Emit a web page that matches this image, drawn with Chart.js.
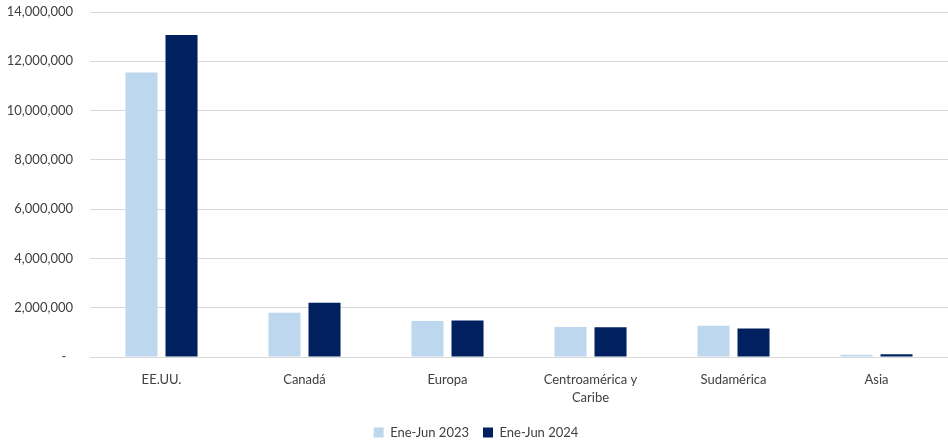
<!DOCTYPE html>
<html><head><meta charset="utf-8">
<script src="https://cdn.jsdelivr.net/npm/chart.js@4/dist/chart.umd.min.js"></script>
<style>html,body{margin:0;padding:0;background:#fff}#wrap{width:948px;height:442px}</style>
</head><body><div id="wrap"><canvas id="c"></canvas></div>
<script>
const categories = ["EE.UU.", "Canadá", "Europa", ["Centroamérica y", "Caribe"], "Sudamérica", "Asia"];
const series2023 = [11540000, 1800000, 1460000, 1220000, 1270000, 95000];
const series2024 = [13070000, 2200000, 1480000, 1210000, 1160000, 110000];
const seriesNames = ["Ene-Jun 2023", "Ene-Jun 2024"];
const yMax = 14000000, yStep = 2000000;

Chart.defaults.font.family = "Lato, 'Open Sans', sans-serif";
Chart.defaults.font.size = 13;
Chart.defaults.color = "#595959";
new Chart(document.getElementById('c'), {
  type: 'bar',
  data: { labels: categories, datasets: [
    { label: seriesNames[0], data: series2023, backgroundColor: '#BDD7EE', categoryPercentage: 0.56, barPercentage: 0.8 },
    { label: seriesNames[1], data: series2024, backgroundColor: '#002060', categoryPercentage: 0.56, barPercentage: 0.8 }
  ]},
  options: {
    responsive: true, maintainAspectRatio: false, animation: false,
    layout: { padding: { top: 12, right: -4, left: 0, bottom: -7 } },
    plugins: {
      legend: { position: 'bottom', labels: { boxWidth: 10, boxHeight: 10, padding: 14, color: '#404040', font: { size: 13 } } },
      tooltip: { enabled: false }
    },
    scales: {
      x: { grid: { display: false }, border: { display: true, color: '#d9d9d9' },
           ticks: { color: '#404040', padding: 5, maxRotation: 0, autoSkip: false, font: { lineHeight: 1.45 } },
           afterFit: s => { s.height = 55; } },
      y: { min: 0, max: yMax, ticks: { stepSize: yStep, padding: 17, color: '#404040',
             callback: v => v === 0 ? '-  ' : v.toLocaleString('en-US') },
           grid: { color: '#d9d9d9', drawTicks: false }, border: { display: false },
           afterFit: s => { s.width = 90; s.paddingTop = 0; s.paddingBottom = 0; } }
    }
  }
});
</script></body></html>
